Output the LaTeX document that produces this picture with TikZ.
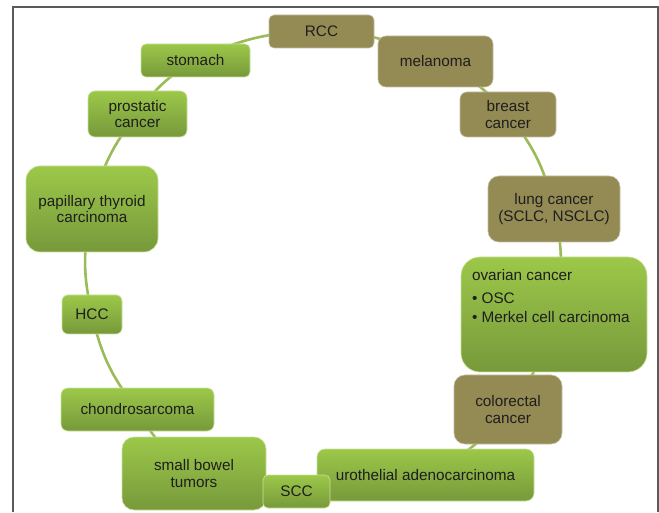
\documentclass[tikz,border=0pt]{standalone}
\usepackage{fontspec}
\setmainfont{Liberation Sans}
\pgfdeclarelayer{background}
\pgfsetlayers{background,main}
\definecolor{colOlive}{HTML}{948A54}
\definecolor{colGreenTop}{HTML}{9CC849}
\definecolor{colGreenBot}{HTML}{77993B}
\definecolor{colLink}{HTML}{9BBB59}
\definecolor{colText}{HTML}{1E1E1E}
\definecolor{colFrame}{HTML}{5A5A5A}
\tikzset{
  box/.style={inner sep=0pt, text=colText, align=center,
    font=\fontsize{15.3}{16.3}\selectfont},
  olivebox/.style={box, fill=colOlive, draw=colOlive!55!white, line width=0.6pt},
  greenbox/.style={box, top color=colGreenTop, bottom color=colGreenBot,
    draw=colGreenTop!55!white, line width=0.6pt},
  link/.style={draw=colLink, line width=2.6pt, bend left=13},
  frameline/.style={draw=colFrame, line width=1.4pt},
}
\begin{document}
\begin{tikzpicture}[x=1pt,y=1pt]
\useasboundingbox (0,0) rectangle (659,512);
\draw[frameline] (13,0) -- (13,505) -- (658,505) -- (658,0);

\node[olivebox, minimum width=105pt, minimum height=33pt, rounded corners=5pt] (rcc) at (321.5,480.5) {RCC};
\node[olivebox, minimum width=115pt, minimum height=51pt, rounded corners=8pt] (mel) at (435.5,450.5) {melanoma};
\node[olivebox, minimum width=96pt, minimum height=45pt, rounded corners=7pt] (breast) at (508,397.5) {breast\\cancer};
\node[olivebox, minimum width=132pt, minimum height=66pt, rounded corners=11pt] (lung) at (554,303) {lung cancer\\(SCLC, NSCLC)};
\node[greenbox, minimum width=186pt, minimum height=115pt, rounded corners=19pt] (ovar) at (554,197.5)
  {\begin{minipage}[c][115pt][t]{164pt}\raggedright
   \fontsize{15.3}{19.5}\selectfont
   \rule{0pt}{23.5pt}ovarian cancer\\[3pt]
   • OSC\\
   • Merkel cell carcinoma
   \end{minipage}};
\node[olivebox, minimum width=108pt, minimum height=69pt, rounded corners=11pt] (colo) at (508,102.5) {colorectal\\cancer};
\node[greenbox, minimum width=217pt, minimum height=52pt, rounded corners=8pt] (uro) at (425.5,37) {urothelial adenocarcinoma};
\node[greenbox, minimum width=144pt, minimum height=73pt, rounded corners=12pt] (sbt) at (194,38.5) {small bowel\\tumors};
\node[greenbox, minimum width=153pt, minimum height=43pt, rounded corners=7pt] (chon) at (137.5,102.5) {chondrosarcoma};
\node[greenbox, minimum width=60pt, minimum height=39pt, rounded corners=6pt] (hcc) at (92,197.5) {HCC};
\node[greenbox, minimum width=132pt, minimum height=86pt, rounded corners=14pt] (pap) at (92,303) {papillary thyroid\\carcinoma};
\node[greenbox, minimum width=99pt, minimum height=46pt, rounded corners=7pt] (pros) at (137.5,398) {prostatic\\cancer};
\node[greenbox, minimum width=109pt, minimum height=33pt, rounded corners=5pt] (stom) at (195.5,451.5) {stomach};
\node[greenbox, minimum width=67pt, minimum height=33pt, rounded corners=5pt] (scc) at (296.5,20.5) {SCC};

\begin{pgfonlayer}{background}
\draw[link] (rcc.center) to (mel.center);
\draw[link] (mel.center) to (breast.center);
\draw[link] (breast.center) to (lung.center);
\draw[link] (lung.center) to (ovar.center);
\draw[link] (ovar.center) to (colo.center);
\draw[link] (colo.center) to (uro.center);
\draw[link] (uro.center) to (scc.center);
\draw[link] (scc.center) to (sbt.center);
\draw[link] (sbt.center) to (chon.center);
\draw[link] (chon.center) to (hcc.center);
\draw[link] (hcc.center) to (pap.center);
\draw[link] (pap.center) to (pros.center);
\draw[link] (pros.center) to (stom.center);
\draw[link] (stom.center) to (rcc.center);
\end{pgfonlayer}
\end{tikzpicture}
\end{document}
